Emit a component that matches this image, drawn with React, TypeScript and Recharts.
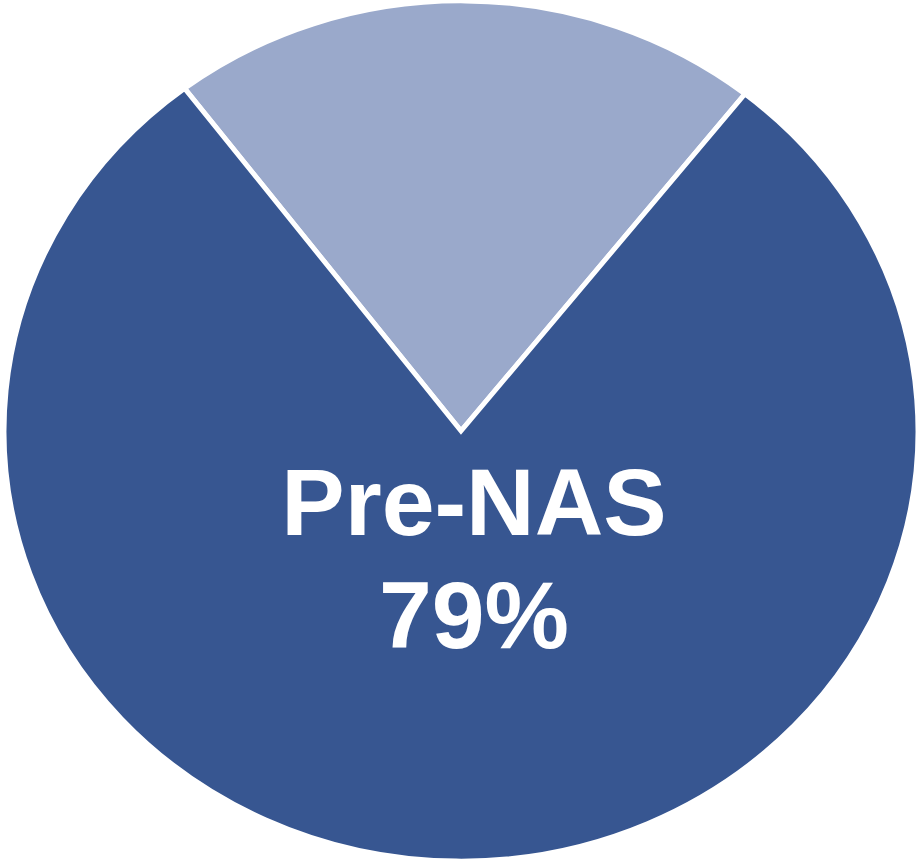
import { PieChart, Pie, Cell, Sector, Label } from "recharts";

const categories = ["Other", "Pre-NAS"];
const shares = [21, 79];
const colors = ["#9aa9cb", "#375691"];
const labelLines = ["Pre-NAS", "79%"];

const data = categories.map((name, i) => ({ name, value: shares[i] }));

// original pie is slightly squashed vertically
const Y_SCALE = 430 / 457;

const SquashedSector = (props: any) => {
  const { cy } = props;
  return (
    <g transform={`translate(0 ${cy}) scale(1 ${Y_SCALE}) translate(0 ${-cy})`}>
      <Sector {...props} />
    </g>
  );
};

const CenterLabel = ({ viewBox }: any) => {
  const cx = viewBox?.cx ?? 461;
  const cy = viewBox?.cy ?? 431;
  return (
    <g>
      <text
        x={cx + 13}
        y={cy + 104}
        textAnchor="middle"
        fill="#ffffff"
        fontFamily="'Liberation Sans', Arial, sans-serif"
        fontWeight="bold"
        fontSize={95}
      >
        {labelLines[0]}
      </text>
      <text
        x={cx + 13}
        y={cy + 217}
        textAnchor="middle"
        fill="#ffffff"
        fontFamily="'Liberation Sans', Arial, sans-serif"
        fontWeight="bold"
        fontSize={95}
      >
        {labelLines[1]}
      </text>
    </g>
  );
};

export default function App() {
  return (
    <div style={{ position: "absolute", top: 0, left: 0, background: "#ffffff" }}>
      <PieChart width={922} height={865} margin={{ top: 0, right: 0, bottom: 0, left: 0 }}>
        <Pie
          data={data}
          dataKey="value"
          nameKey="name"
          cx={461}
          cy={431}
          innerRadius={0}
          outerRadius={457}
          startAngle={51.6}
          endAngle={411.6}
          stroke="#ffffff"
          strokeWidth={5}
          shape={SquashedSector}
          isAnimationActive={false}
        >
          {data.map((d, i) => (
            <Cell key={d.name} fill={colors[i]} />
          ))}
          <Label position="center" content={<CenterLabel />} />
        </Pie>
      </PieChart>
    </div>
  );
}
